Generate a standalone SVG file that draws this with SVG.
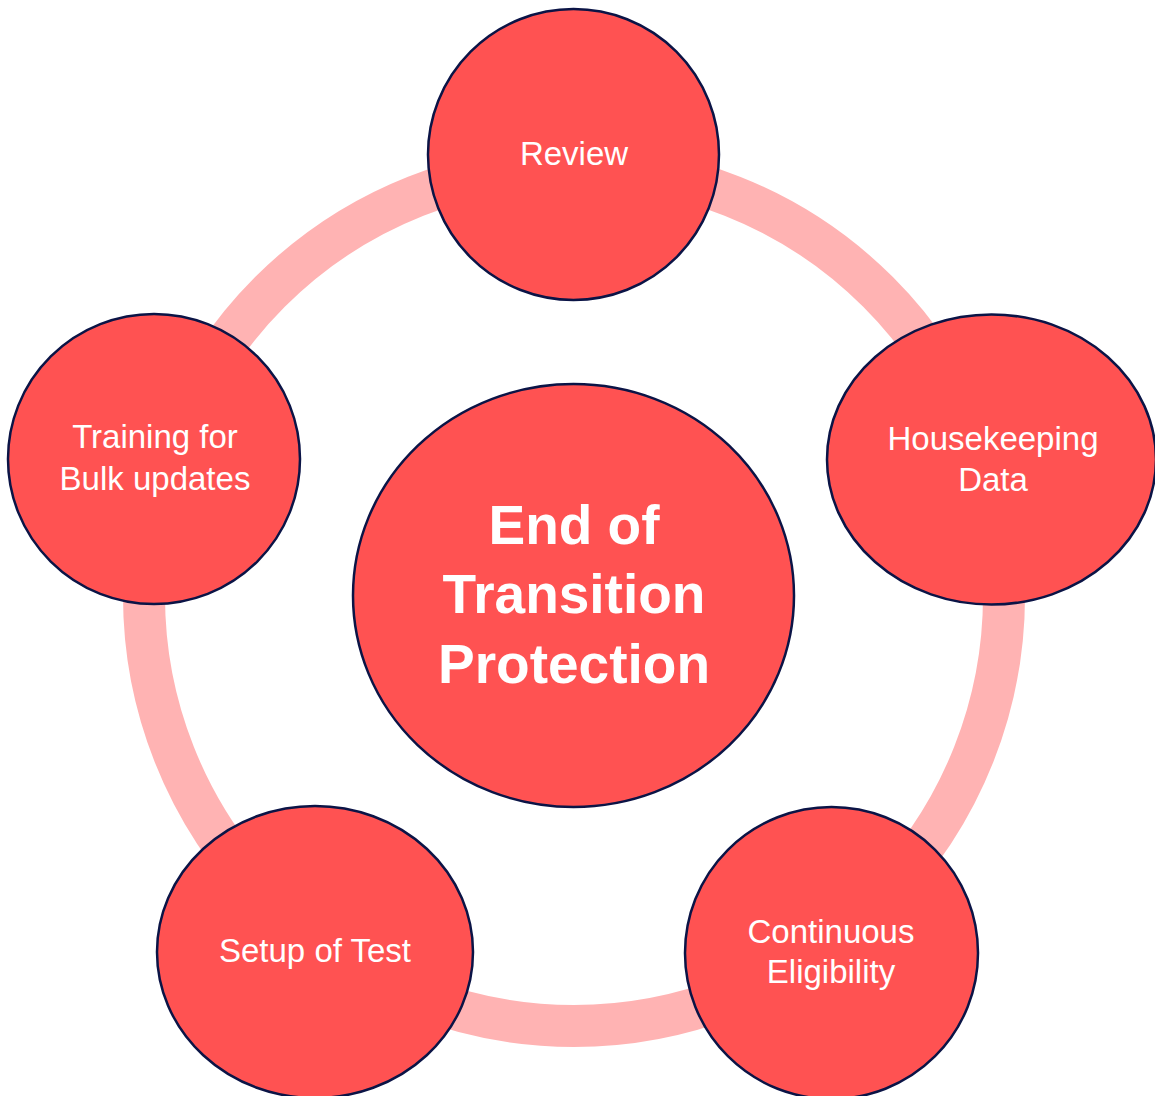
<svg xmlns="http://www.w3.org/2000/svg" width="1155" height="1096" viewBox="0 0 1155 1096">
  <style>
    .node { fill: #FF5252; stroke: #0B1446; stroke-width: 2.5; }
    .lbl { font-family: "Liberation Sans", Arial, sans-serif; font-size: 33px; fill: #FFFFFF; text-anchor: middle; }
    .title { font-family: "Liberation Sans", Arial, sans-serif; font-size: 55px; font-weight: bold; fill: #FFFFFF; text-anchor: middle; }
  </style>
  <rect x="0" y="0" width="1155" height="1096" fill="#FFFFFF"/>
  <g id="connectors">
    <circle cx="574" cy="596" r="430" fill="none" stroke="#FFB3B3" stroke-width="42"/>
  </g>
  <g id="center">
    <ellipse class="node" cx="573.5" cy="595.5" rx="220.5" ry="211.5"/>
    <text class="title" x="574" y="544">End of</text>
    <text class="title" x="574" y="613">Transition</text>
    <text class="title" x="574" y="683">Protection</text>
  </g>
  <g id="review">
    <ellipse class="node" cx="573.5" cy="154.5" rx="145.5" ry="145.5"/>
    <text class="lbl" x="574" y="165">Review</text>
  </g>
  <g id="housekeeping">
    <ellipse class="node" cx="991.5" cy="459.5" rx="164.5" ry="145"/>
    <text class="lbl" x="993" y="450">Housekeeping</text>
    <text class="lbl" x="993" y="491">Data</text>
  </g>
  <g id="continuous">
    <ellipse class="node" cx="831.5" cy="953" rx="146.5" ry="146"/>
    <text class="lbl" x="831" y="943">Continuous</text>
    <text class="lbl" x="831" y="983">Eligibility</text>
  </g>
  <g id="setup">
    <ellipse class="node" cx="315" cy="952" rx="158" ry="146"/>
    <text class="lbl" x="315" y="962">Setup of Test</text>
  </g>
  <g id="training">
    <ellipse class="node" cx="154" cy="459" rx="146" ry="145"/>
    <text class="lbl" x="155" y="448">Training for</text>
    <text class="lbl" x="155" y="490">Bulk updates</text>
  </g>
</svg>
